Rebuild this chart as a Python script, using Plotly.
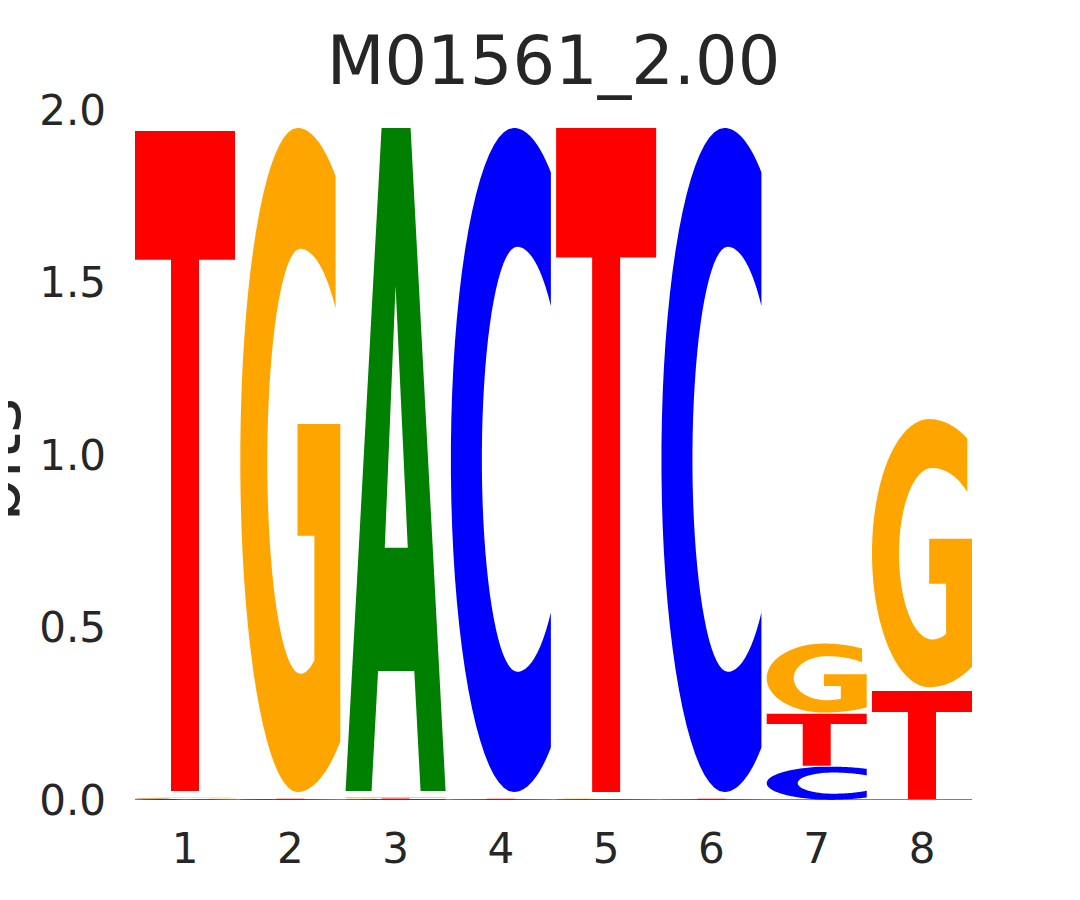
import numpy as np
import plotly.graph_objects as go

# ---------------- data (bits per letter at each position) ----------------
positions = [1, 2, 3, 4, 5, 6, 7, 8]
A_bits = [0.0020, 0.0012, 1.9610, 0.0012, 0.0012, 0.0012, 0.0000, 0.0000]
C_bits = [0.0020, 0.0012, 0.0020, 1.9640, 0.0012, 1.9640, 0.0977, 0.0000]
G_bits = [0.0025, 1.9640, 0.0020, 0.0012, 0.0012, 0.0012, 0.2040, 0.7930]
T_bits = [1.9520, 0.0012, 0.0024, 0.0012, 1.9640, 0.0012, 0.1538, 0.3190]
y_tick_vals = [0.0, 0.5, 1.0, 1.5, 2.0]
y_tick_text = ["0.0", "0.5", "1.0", "1.5", "2.0"]
title_text = "M01561_2.00"
y_label = "bits"

# ---------------- style ----------------
COLORS = {"A": "#008000", "C": "#0000FF", "G": "#FFA500", "T": "#FF0000"}
WIDTH = 0.95
VPAD = 0.02
TXT = "#262626"
FONT = "DejaVu Sans"
ML, MT, PW, PH = 127, 102, 837, 690   # page has an 8px body offset


def arc(cx, cy, rx, ry, a0, a1, n=40):
    t = np.radians(np.linspace(a0, a1, n))
    return list(zip(cx + rx * np.cos(t), cy + ry * np.sin(t)))


def glyph_T():
    return [[(0, 1), (1, 1), (1, 0.805), (0.64, 0.805), (0.64, 0), (0.36, 0),
             (0.36, 0.805), (0, 0.805)]]


def glyph_A():
    outer = [(0, 0), (0.36, 1), (0.65, 1), (1, 0), (0.75, 0), (0.687, 0.181),
             (0.325, 0.181), (0.26, 0)]
    hole = [(0.392, 0.367), (0.5, 0.762), (0.622, 0.367)]
    return [outer, hole]


def glyph_C():
    cx, cy, ry = 0.63, 0.5, 0.5
    rxr, rxl = 0.74, 0.63
    a_top = np.degrees(np.arccos((1 - cx) / rxr))
    icx, icy, iry = 0.663, 0.501, 0.32
    irxr, irxl = 0.486, 0.353
    ia = np.degrees(np.arccos((1 - icx) / irxr))
    pts = []
    pts += arc(cx, cy, rxr, ry, a_top, 90)
    pts += arc(cx, cy, rxl, ry, 90, 270)
    pts += arc(cx, cy, rxr, ry, 270, 360 - a_top)
    pts += arc(icx, icy, irxr, iry, 360 - ia, 270)
    pts += arc(icx, icy, irxl, iry, 270, 90)
    pts += arc(icx, icy, irxr, iry, 90, ia)
    return [pts]


def glyph_G():
    cx, cy, ry = 0.572, 0.5, 0.5
    rx_tr, rx_l, rx_br = 0.733, 0.572, 0.807
    a_top = np.degrees(np.arccos((0.953 - cx) / rx_tr))
    a_bot = np.degrees(np.arccos((1.0 - cx) / rx_br))
    icx, icy, iry = 0.6, 0.498, 0.32
    irx_tr, irx_l, irx_br = 0.508, 0.33, 0.40
    ia_top = np.degrees(np.arccos((0.953 - icx) / irx_tr))
    ia_bot = np.degrees(np.arccos((0.741 - icx) / irx_br))
    pts = []
    pts += arc(cx, cy, rx_tr, ry, a_top, 90)
    pts += arc(cx, cy, rx_l, ry, 90, 270)
    pts += arc(cx, cy, rx_br, ry, 270, 360 - a_bot)
    pts += [(1.0, 0.554), (0.572, 0.554), (0.572, 0.386), (0.741, 0.386)]
    pts += arc(icx, icy, irx_br, iry, 360 - ia_bot, 270)
    pts += arc(icx, icy, irx_l, iry, 270, 90)
    pts += arc(icx, icy, irx_tr, iry, 90, ia_top)
    return [pts]


GLYPHS = {"A": glyph_A, "C": glyph_C, "G": glyph_G, "T": glyph_T}

bits = {"A": A_bits, "C": C_bits, "G": G_bits, "T": T_bits}

shapes = []
for i, pos in enumerate(positions):
    vals = sorted([(bits[L][i], L) for L in "ACGT"], key=lambda t: t[0])
    floor = 0.0
    for h, L in vals:
        if h <= 0:
            continue
        pad = VPAD * h / 2
        y0 = floor + pad
        gh = h - 2 * pad
        x0 = pos - WIDTH / 2
        path = ""
        for ring in GLYPHS[L]():
            coords = [(x0 + u * WIDTH, y0 + v * gh) for u, v in ring]
            path += "M" + " L".join(f"{x:.5f},{y:.6f}" for x, y in coords) + " Z "
        shapes.append(dict(type="path", xref="x", yref="y", path=path.strip(),
                           fillcolor=COLORS[L], fillrule="evenodd",
                           line=dict(width=0), layer="above"))
        floor += h

# baseline
shapes.append(dict(type="line", xref="x", yref="y",
                   x0=positions[0] - WIDTH / 2, x1=positions[-1] + WIDTH / 2,
                   y0=0, y1=0, line=dict(color="black", width=1)))

fig = go.Figure()
fig.add_trace(go.Scatter(x=positions, y=[0] * len(positions), mode="markers",
                         marker=dict(opacity=0), hoverinfo="skip", showlegend=False))

fig.update_layout(
    width=1080, height=900,
    margin=dict(l=ML, r=1080 - ML - PW, t=MT, b=900 - MT - PH),
    paper_bgcolor="white", plot_bgcolor="white",
    shapes=shapes,
    showlegend=False,
    title=dict(text=title_text, x=0.5, xref="paper", xanchor="center",
               y=1 - 53 / 900, yref="container", yanchor="middle",
               font=dict(family=FONT, size=67, color=TXT)),
    xaxis=dict(range=[positions[0] - WIDTH / 2, positions[-1] + WIDTH / 2],
               tickvals=positions, ticktext=[str(p) for p in positions],
               showgrid=False, zeroline=False, showline=False, ticks="",
               ticklabelstandoff=20,
               tickfont=dict(family=FONT, size=42, color=TXT)),
    yaxis=dict(range=[0, 2], tickvals=y_tick_vals, ticktext=y_tick_text,
               showgrid=False, zeroline=False, showline=False, ticks="",
               ticklabelstandoff=28,
               tickfont=dict(family=FONT, size=42, color=TXT)),
    annotations=[dict(text=y_label, textangle=-90, xref="paper", yref="paper",
                      x=(-11 - ML) / PW, y=0.493, xanchor="center", yanchor="middle",
                      showarrow=False, font=dict(family=FONT, size=68, color=TXT))],
)

fig.write_html("out.html")
